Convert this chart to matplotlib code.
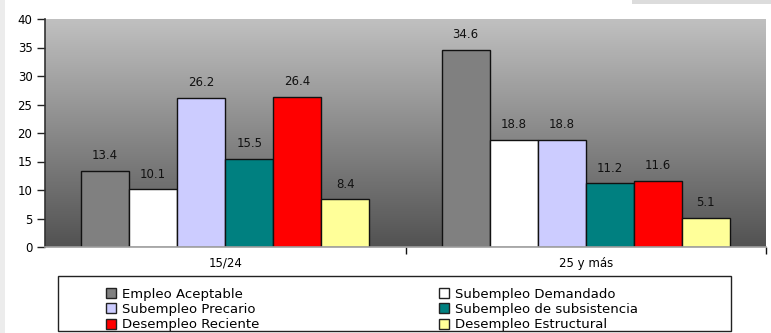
import numpy as np
import matplotlib
matplotlib.use("Agg")
import matplotlib.pyplot as plt
from matplotlib.patches import Rectangle, Patch

categories = ["15/24", "25 y más"]
series_names = ["Empleo Aceptable", "Subempleo Demandado", "Subempleo Precario",
                "Subempleo de subsistencia", "Desempleo Reciente", "Desempleo Estructural"]
empleo_aceptable = [13.4, 34.6]
subempleo_demandado = [10.1, 18.8]
subempleo_precario = [26.2, 18.8]
subempleo_subsistencia = [15.5, 11.2]
desempleo_reciente = [26.4, 11.6]
desempleo_estructural = [8.4, 5.1]
yticks = [0, 5, 10, 15, 20, 25, 30, 35, 40]

series = [empleo_aceptable, subempleo_demandado, subempleo_precario,
          subempleo_subsistencia, desempleo_reciente, desempleo_estructural]
colors = ["#808080", "#ffffff", "#ccccff", "#008080", "#ff0000", "#ffff99"]

plt.rcParams['font.family'] = ['DejaVu Sans']
W, H = 771, 333
fig = plt.figure(figsize=(W / 100, H / 100), dpi=100)
ax = fig.add_axes([45 / W, 86 / H, 721 / W, 228 / H])

# gradient background
grad = np.linspace(0, 1, 256).reshape(-1, 1)
top = np.array([192, 192, 192]) / 255
bot = np.array([82, 82, 82]) / 255
img = (top[None, None, :] * (1 - grad[:, :, None]) + bot[None, None, :] * grad[:, :, None])
ax.imshow(img, extent=[-0.5, 1.5, 0, 40], aspect='auto', zorder=0, interpolation='bilinear')

n = len(series)
w = 0.8 / n
x = np.arange(len(categories))
for i, (vals, c) in enumerate(zip(series, colors)):
    pos = x - 0.4 + w * (i + 0.5)
    ax.bar(pos, vals, width=w, color=c, edgecolor="#111111", linewidth=1.0, zorder=2)
    for p, v in zip(pos, vals):
        ax.text(p, v + 1.5, f"{v:.1f}", ha='center', va='bottom', fontsize=8.5, color="#111111")

ax.set_xlim(-0.5, 1.5)
ax.set_ylim(0, 40)
ax.set_yticks(yticks)
ax.tick_params(axis='y', length=6, width=1, color="#222222", labelsize=8.5, pad=3)
ax.set_xticks(x)
ax.set_xticklabels(categories)
ax.tick_params(axis='x', which='major', length=0, labelsize=8.5, pad=7)
ax.set_xticks([0.5, 1.5], minor=True)
ax.tick_params(axis='x', which='minor', length=5, width=1, color="#111111")
for s in ['top', 'right']:
    ax.spines[s].set_visible(False)
ax.spines['left'].set_color("#333333")
ax.spines['left'].set_linewidth(1.2)
ax.spines['bottom'].set_color("#a0a0a0")
ax.spines['bottom'].set_linewidth(1.2)

# legend frame
fig.patches.append(Rectangle((58 / W, 2 / H), (731 - 58) / W, (331 - 276) / H,
                             transform=fig.transFigure, facecolor='white',
                             edgecolor='#222222', linewidth=1.0, zorder=1))
handles = [Patch(facecolor=c, edgecolor='#222222', linewidth=1.0) for c in colors]
order1 = [0, 2, 4]
order2 = [1, 3, 5]
kw = dict(frameon=False, fontsize=9.5, handlelength=0.8, handleheight=0.8,
          handletextpad=0.45, labelspacing=0.18, borderpad=0, loc='upper left')
leg1 = fig.legend([handles[i] for i in order1], [series_names[i] for i in order1],
                  bbox_to_anchor=(99 / W, 1 - 281 / H), **kw)
leg2 = fig.legend([handles[i] for i in order2], [series_names[i] for i in order2],
                  bbox_to_anchor=(432 / W, 1 - 281 / H), **kw)
for lg in (leg1, leg2):
    lg.set_zorder(3)

# decorative artifacts
fig.patches.append(Rectangle((632 / W, 1 - 4 / H), (W - 632) / W, 4 / H,
                             transform=fig.transFigure, facecolor='#dcdcdc',
                             edgecolor='none'))
fig.patches.append(Rectangle((0, 0), 5 / W, 1, transform=fig.transFigure,
                             facecolor='#ececec', edgecolor='none'))

fig.savefig("out.png", dpi=100)
